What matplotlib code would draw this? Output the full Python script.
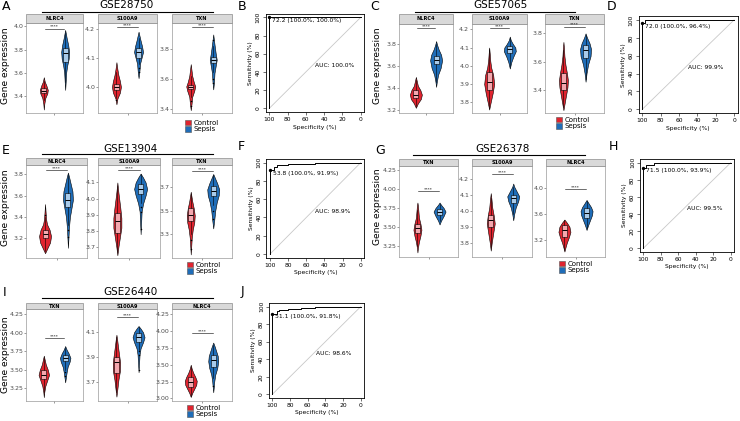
import numpy as np
import matplotlib
matplotlib.use('Agg')
import matplotlib.pyplot as plt
from matplotlib.patches import Rectangle, Patch
from matplotlib.lines import Line2D

W, H = 740, 421
RED, BLUE = '#E0242F', '#1F6DB8'
PINK, LIGHTBLUE = '#F4A7AE', '#A9CBEA'

# ---------------- violin data: (y levels, relative widths) ----------------
# GSE28750
gse28750_genes = ['NLRC4', 'S100A9', 'TXN']
gse28750_ylim = [(3.25, 4.03), (3.91, 4.22), (3.371, 3.977)]
gse28750_ticks = [['3.4', '3.6', '3.8', '4.0'], ['4.0', '4.1', '4.2'], ['3.4', '3.6', '3.8']]
gse28750_ctrl = [
    ([3.28, 3.33, 3.38, 3.42, 3.45, 3.49, 3.52, 3.56], [0, 1, 3, 7, 8, 5, 2, 0]),
    ([3.94, 3.96, 3.98, 4.00, 4.02, 4.04, 4.06, 4.085], [0, 2, 7, 9, 7, 4, 2, 0]),
    ([3.39, 3.43, 3.48, 3.52, 3.55, 3.58, 3.62, 3.66, 3.70], [0, 1.5, 3, 7, 9, 6, 3, 1.5, 0]),
]
gse28750_sepsis = [
    ([3.45, 3.52, 3.60, 3.66, 3.72, 3.78, 3.84, 3.90, 3.97], [0, 1, 2, 4, 7, 8, 6, 3, 0]),
    ([4.03, 4.05, 4.08, 4.10, 4.12, 4.14, 4.16, 4.19], [0, 1.5, 3, 6, 9, 7, 4, 0]),
    ([3.53, 3.58, 3.64, 3.69, 3.73, 3.77, 3.82, 3.86, 3.90], [0, 1.5, 2.5, 5, 7, 5, 3, 1.5, 0]),
]
gse28750_ctrl_box = [(3.36, 3.42, 3.44, 3.47, 3.53), (3.96, 3.99, 4.00, 4.01, 4.05), (3.48, 3.53, 3.545, 3.56, 3.62)]
gse28750_sepsis_box = [(3.52, 3.69, 3.77, 3.81, 3.94), (4.08, 4.10, 4.12, 4.135, 4.17), (3.65, 3.71, 3.73, 3.75, 3.82)]
gse28750_ctrl_out = [[], [3.955], [3.45, 3.42]]
gse28750_sepsis_out = [[], [4.065, 4.05], [3.60, 3.57, 3.86]]
gse28750_sig = [3.98, 4.205, 3.948]

# GSE57065
gse57065_genes = ['NLRC4', 'S100A9', 'TXN']
gse57065_ylim = [(3.173, 3.98), (3.741, 4.229), (3.24, 3.866)]
gse57065_ticks = [['3.2', '3.4', '3.6', '3.8'], ['3.8', '3.9', '4.0', '4.1', '4.2'], ['3.4', '3.6', '3.8']]
gse57065_ctrl = [
    ([3.22, 3.26, 3.30, 3.34, 3.38, 3.42, 3.46, 3.50], [0, 4, 10, 12, 9, 4, 2, 0]),
    ([3.76, 3.80, 3.85, 3.90, 3.95, 3.99, 4.03, 4.07, 4.10], [0, 3, 7, 10, 8, 4, 2, 1, 0]),
    ([3.26, 3.30, 3.36, 3.42, 3.47, 3.52, 3.58, 3.64, 3.70, 3.74], [0, 2, 5, 8, 9, 7, 4, 2, 1, 0]),
]
gse57065_sepsis = [
    ([3.41, 3.46, 3.52, 3.58, 3.65, 3.70, 3.75, 3.79, 3.825], [0, 1.5, 4, 9, 12, 10, 5, 2, 0]),
    ([3.985, 4.02, 4.05, 4.08, 4.10, 4.12, 4.14, 4.16], [0, 3, 7, 12, 11, 6, 2, 0]),
    ([3.46, 3.52, 3.58, 3.64, 3.69, 3.73, 3.77, 3.80], [0, 2, 5, 10, 11, 8, 3, 0]),
]
gse57065_ctrl_box = [(3.24, 3.31, 3.336, 3.38, 3.47), (3.77, 3.866, 3.91, 3.967, 4.09), (3.28, 3.40, 3.45, 3.52, 3.68)]
gse57065_sepsis_box = [(3.45, 3.62, 3.655, 3.69, 3.80), (4.00, 4.07, 4.09, 4.11, 4.15), (3.48, 3.63, 3.68, 3.72, 3.79)]
gse57065_ctrl_out = [[], [], []]
gse57065_sepsis_out = [[], [], []]
gse57065_sig = [3.94, 4.205, 3.846]

# GSE13904
gse13904_genes = ['NLRC4', 'S100A9', 'TXN']
gse13904_ylim = [(3.015, 3.886), (3.633, 4.208), (3.10, 3.886)]
gse13904_ticks = [['3.2', '3.4', '3.6', '3.8'], ['3.7', '3.8', '3.9', '4.0', '4.1'], ['3.3', '3.5', '3.7']]
gse13904_ctrl = [
    ([3.06, 3.10, 3.16, 3.22, 3.28, 3.33, 3.38, 3.45, 3.52], [0, 4, 10, 12, 9, 4, 2, 1, 0]),
    ([3.65, 3.70, 3.76, 3.82, 3.88, 3.94, 3.99, 4.04, 4.10], [0, 2, 5, 8, 8, 6, 4, 2, 0]),
    ([3.13, 3.20, 3.27, 3.34, 3.40, 3.46, 3.52, 3.58, 3.66], [0, 1, 2, 4, 7, 8, 6, 3, 0]),
]
gse13904_sepsis = [
    ([3.11, 3.20, 3.30, 3.40, 3.48, 3.56, 3.64, 3.70, 3.76, 3.815], [0, 1, 2, 4, 7, 10, 9, 6, 3, 0]),
    ([3.78, 3.85, 3.92, 3.97, 4.02, 4.06, 4.10, 4.13, 4.155], [0, 1, 2, 5, 10, 13, 10, 5, 0]),
    ([3.35, 3.42, 3.50, 3.57, 3.63, 3.68, 3.73, 3.77, 3.81], [0, 2, 4, 7, 11, 12, 8, 4, 0]),
]
gse13904_ctrl_box = [(3.08, 3.20, 3.237, 3.28, 3.40), (3.67, 3.79, 3.864, 3.914, 4.08), (3.30, 3.41, 3.467, 3.52, 3.64)]
gse13904_sepsis_box = [(3.32, 3.49, 3.554, 3.62, 3.79), (3.97, 4.03, 4.057, 4.09, 4.15), (3.55, 3.62, 3.67, 3.71, 3.80)]
gse13904_ctrl_out = [[3.42], [], [3.25, 3.18]]
gse13904_sepsis_out = [[3.28, 3.21], [3.95, 3.92, 3.81], [3.50, 3.43]]
gse13904_sig = [3.837, 4.176, 3.836]

# GSE26378
gse26378_genes = ['TXN', 'S100A9', 'NLRC4']
gse26378_ylim = [(3.10, 4.303), (3.71, 4.28), (2.936, 4.33)]
gse26378_ticks = [['3.25', '3.50', '3.75', '4.00', '4.25'], ['3.8', '3.9', '4.0', '4.1', '4.2'], ['3.2', '3.6', '4.0']]
gse26378_ctrl = [
    ([3.16, 3.22, 3.30, 3.38, 3.46, 3.54, 3.62, 3.70, 3.78, 3.82], [0, 1, 3, 6, 8, 6, 3, 2, 1, 0]),
    ([3.75, 3.80, 3.86, 3.92, 3.97, 4.02, 4.07, 4.11], [0, 2, 5, 8, 6, 3, 1.5, 0]),
    ([3.02, 3.08, 3.16, 3.24, 3.32, 3.40, 3.46, 3.51], [0, 2, 5, 9, 12, 10, 5, 0]),
]
gse26378_sepsis = [
    ([3.53, 3.58, 3.64, 3.70, 3.75, 3.79, 3.82], [0, 3, 8, 12, 8, 3, 0]),
    ([3.94, 3.98, 4.02, 4.06, 4.09, 4.12, 4.15, 4.17], [0, 2, 5, 10, 12, 7, 2, 0]),
    ([3.35, 3.42, 3.50, 3.58, 3.64, 3.70, 3.76, 3.81], [0, 3, 7, 11, 12, 9, 4, 0]),
]
gse26378_ctrl_box = [(3.25, 3.42, 3.48, 3.53, 3.72), (3.77, 3.90, 3.94, 3.97, 4.08), (3.05, 3.25, 3.35, 3.43, 3.50)]
gse26378_sepsis_box = [(3.57, 3.66, 3.70, 3.73, 3.80), (3.98, 4.05, 4.08, 4.10, 4.15), (3.38, 3.53, 3.616, 3.68, 3.80)]
gse26378_ctrl_out = [[], [], []]
gse26378_sepsis_out = [[], [], []]
gse26378_sig = [3.97, 4.227, 3.975]

# GSE26440
gse26440_genes = ['TXN', 'S100A9', 'NLRC4']
gse26440_ylim = [(3.078, 4.32), (3.55, 4.286), (2.96, 4.33)]
gse26440_ticks = [['3.25', '3.50', '3.75', '4.00', '4.25'], ['3.7', '3.9', '4.1'],
                  ['3.00', '3.25', '3.50', '3.75', '4.00', '4.25']]
gse26440_ctrl = [
    ([3.13, 3.20, 3.28, 3.36, 3.43, 3.50, 3.57, 3.63, 3.69], [0, 1, 3, 7, 10.5, 8, 4, 2, 0]),
    ([3.585, 3.65, 3.72, 3.79, 3.86, 3.93, 3.99, 4.04, 4.08], [0, 2, 4, 7, 7.3, 5, 3, 1.5, 0]),
    ([3.02, 3.08, 3.14, 3.20, 3.26, 3.32, 3.38, 3.44, 3.50], [0, 3, 7, 11, 12, 9, 5, 2, 0]),
]
gse26440_sepsis = [
    ([3.33, 3.40, 3.47, 3.54, 3.61, 3.66, 3.72, 3.77, 3.82], [0, 1.5, 3, 5, 9, 10.5, 7, 3, 0]),
    ([3.78, 3.85, 3.92, 3.97, 4.02, 4.06, 4.10, 4.13, 4.15], [0, 1, 2, 4, 9, 12, 9, 4, 0]),
    ([3.09, 3.16, 3.25, 3.35, 3.45, 3.55, 3.63, 3.70, 3.77, 3.83], [0, 1, 2, 4, 8, 10, 9, 6, 3, 0]),
]
gse26440_ctrl_box = [(3.20, 3.38, 3.43, 3.49, 3.66), (3.62, 3.77, 3.86, 3.905, 4.06), (3.04, 3.17, 3.25, 3.32, 3.47)]
gse26440_sepsis_box = [(3.50, 3.62, 3.66, 3.70, 3.80), (3.96, 4.025, 4.065, 4.09, 4.14), (3.30, 3.47, 3.57, 3.64, 3.80)]
gse26440_ctrl_out = [[], [], []]
gse26440_sepsis_out = [[3.47, 3.41], [3.95, 3.92, 3.80], [3.18]]
gse26440_sig = [3.925, 4.22, 3.967]

# ---------------- ROC data ----------------
roc_b_spec = [100, 100, 0]
roc_b_sens = [0, 100, 100]
roc_d_spec = [100, 100, 97, 97, 0]
roc_d_sens = [0, 96.4, 96.4, 100, 100]
roc_f_spec = [100, 100, 96, 96, 92, 92, 80, 80, 50, 50, 0]
roc_f_sens = [0, 91.9, 91.9, 95.5, 95.5, 97, 97, 98.5, 98.5, 100, 100]
roc_h_spec = [100, 100, 97, 97, 88, 88, 0]
roc_h_sens = [0, 93.9, 93.9, 97, 97, 100, 100]
roc_j_spec = [100, 100, 95, 95, 92, 92, 82, 82, 68, 68, 52, 52, 0]
roc_j_sens = [0, 91.8, 91.8, 95, 95, 96.5, 96.5, 97.5, 97.5, 98.5, 98.5, 100, 100]
roc_thr = ['72.2 (100.0%, 100.0%)', '72.0 (100.0%, 96.4%)', '53.8 (100.0%, 91.9%)',
           '71.5 (100.0%, 93.9%)', '51.1 (100.0%, 91.8%)']
roc_thr_sens = [100, 96.4, 91.9, 93.9, 91.8]
roc_auc = ['AUC: 100.0%', 'AUC: 99.9%', 'AUC: 98.9%', 'AUC: 99.5%', 'AUC: 98.6%']

fig = plt.figure(figsize=(W / 100, H / 100), dpi=100)


def rect(x0, y0, x1, y1):
    return [x0 / W, 1 - y1 / H, (x1 - x0) / W, (y1 - y0) / H]


def one_violin(ax, pos, prof, box, out, col, light, px):
    ys, ws = prof
    ws = np.array(ws, dtype=float)
    st = [dict(coords=np.array(ys), vals=ws, mean=box[2], median=box[2], min=ys[0], max=ys[-1])]
    parts = ax.violin(st, positions=[pos], widths=[ws.max() * px], showmeans=False,
                      showextrema=False, showmedians=False)
    for b in parts['bodies']:
        b.set_facecolor(col)
        b.set_edgecolor('black')
        b.set_linewidth(0.4)
        b.set_alpha(1)
        b.set_zorder(2)
    bs = [dict(whislo=box[0], q1=box[1], med=box[2], q3=box[3], whishi=box[4], fliers=out)]
    ax.bxp(bs, positions=[pos], widths=[5 * px], patch_artist=True, manage_ticks=False,
           showcaps=False, zorder=3,
           boxprops=dict(facecolor=light, edgecolor='black', linewidth=0.4),
           medianprops=dict(color='black', linewidth=0.7),
           whiskerprops=dict(color='black', linewidth=0.4),
           flierprops=dict(marker='o', markersize=1.1, markerfacecolor='black',
                           markeredgecolor='black', markeredgewidth=0))


def draw_group(xs, strip_top, top, bottom, genes, ylims, ticks, ctrl, sep, cbox, sbox, cout, sout, sig):
    for i, (x0, x1) in enumerate(xs):
        ax = fig.add_axes(rect(x0, top, x1, bottom))
        px = 1.2 / (x1 - x0)
        one_violin(ax, 0.775, ctrl[i], cbox[i], cout[i], RED, PINK, px)
        one_violin(ax, 1.225, sep[i], sbox[i], sout[i], BLUE, LIGHTBLUE, px)
        ax.plot([0.79, 1.21], [sig[i], sig[i]], color='black', lw=0.4)
        ax.text(1.0, sig[i], '****', ha='center', va='bottom', fontsize=3.2)
        ax.set_xlim(0.4, 1.6)
        ax.set_ylim(*ylims[i])
        ax.set_xticks([1.0])
        ax.set_xticklabels([''])
        ax.set_yticks([float(t) for t in ticks[i]])
        ax.set_yticklabels(ticks[i])
        ax.tick_params(labelsize=4.5, colors='#4D4D4D', length=1.3, width=0.4, pad=0.8)
        for s in ax.spines.values():
            s.set_color('#9A9A9A')
            s.set_linewidth(0.5)
        sh = (top - strip_top) / (bottom - top)
        ax.add_patch(Rectangle((0, 1), 1, sh, transform=ax.transAxes, clip_on=False,
                               facecolor='#D9D9D9', edgecolor='#8C8C8C', lw=0.5))
        ax.text(0.5, 1 + sh / 2, genes[i], transform=ax.transAxes, ha='center', va='center',
                fontsize=3.6, fontweight='bold')


def draw_title(cx, cy, text, lx0, lx1, ly):
    fig.text(cx / W, 1 - cy / H, text, ha='center', va='center', fontsize=7.5)
    fig.add_artist(Line2D([lx0 / W, lx1 / W], [1 - ly / H, 1 - ly / H], color='black', lw=0.8))


def draw_legend(x, y):
    hs = [Patch(facecolor=RED, edgecolor='#555555', lw=0.4), Patch(facecolor=BLUE, edgecolor='#555555', lw=0.4)]
    fig.legend(hs, ['Control', 'Sepsis'], loc='upper left', bbox_to_anchor=(x / W, 1 - y / H),
               frameon=False, fontsize=5, handlelength=0.8, handleheight=0.8, handletextpad=0.4,
               labelspacing=0.05, borderpad=0, borderaxespad=0)


def draw_roc(r, spec, sens, thr, thr_sens, auc):
    ax = fig.add_axes(rect(*r))
    ax.plot([100, 0], [0, 100], color='#C8C8C8', lw=0.6)
    ax.plot(spec, sens, color='black', lw=0.7)
    ax.plot([100], [thr_sens], 'o', color='black', ms=1.4)
    ax.text(97, thr_sens - 3.5, thr, fontsize=4.3, ha='left', va='center')
    ax.text(50, 47, auc, fontsize=4.3, ha='left', va='center')
    ax.set_xlim(104, -4)
    ax.set_ylim(-4, 104)
    ax.set_xticks([100, 80, 60, 40, 20, 0])
    ax.set_yticks([0, 20, 40, 60, 80, 100])
    ax.set_yticklabels(['0', '20', '40', '60', '80', '100'], rotation=90, va='center')
    ax.tick_params(labelsize=4.3, length=2, width=0.4, pad=1.5)
    ax.set_xlabel('Specificity (%)', fontsize=4.3, labelpad=2)
    ax.set_ylabel('Sensitivity (%)', fontsize=4.3, labelpad=2)
    for s in ax.spines.values():
        s.set_linewidth(0.6)


# ---------------- violin groups ----------------
draw_group([(26, 83), (98, 157), (172, 232)], 14, 23, 113, gse28750_genes, gse28750_ylim, gse28750_ticks,
           gse28750_ctrl, gse28750_sepsis, gse28750_ctrl_box, gse28750_sepsis_box,
           gse28750_ctrl_out, gse28750_sepsis_out, gse28750_sig)
draw_group([(399, 453), (472, 527), (545, 604)], 14, 24, 113, gse57065_genes, gse57065_ylim, gse57065_ticks,
           gse57065_ctrl, gse57065_sepsis, gse57065_ctrl_box, gse57065_sepsis_box,
           gse57065_ctrl_out, gse57065_sepsis_out, gse57065_sig)
draw_group([(26, 87), (98, 160), (172, 232)], 158, 165, 258, gse13904_genes, gse13904_ylim, gse13904_ticks,
           gse13904_ctrl, gse13904_sepsis, gse13904_ctrl_box, gse13904_sepsis_box,
           gse13904_ctrl_out, gse13904_sepsis_out, gse13904_sig)
draw_group([(399, 458), (472, 532), (546, 605)], 159, 166, 257, gse26378_genes, gse26378_ylim, gse26378_ticks,
           gse26378_ctrl, gse26378_sepsis, gse26378_ctrl_box, gse26378_sepsis_box,
           gse26378_ctrl_out, gse26378_sepsis_out, gse26378_sig)
draw_group([(26, 83), (98, 157), (172, 232)], 303, 309, 401, gse26440_genes, gse26440_ylim, gse26440_ticks,
           gse26440_ctrl, gse26440_sepsis, gse26440_ctrl_box, gse26440_sepsis_box,
           gse26440_ctrl_out, gse26440_sepsis_out, gse26440_sig)

draw_title(127, 5, 'GSE28750', 42, 213, 12)
draw_title(500, 5, 'GSE57065', 415, 575, 12)
draw_title(130, 149, 'GSE13904', 42, 213, 154)
draw_title(503, 149, 'GSE26378', 413, 585, 155)
draw_title(130, 292, 'GSE26440', 42, 213, 298)

for gx, gy in [(6, 66), (378, 66), (6, 208), (377, 207), (6, 355)]:
    fig.text(gx / W, 1 - gy / H, 'Gene expression', rotation=90, ha='center', va='center', fontsize=6.6)

draw_legend(185, 120)
draw_legend(556, 117)
draw_legend(187, 262)
draw_legend(559, 261)
draw_legend(187, 405)

# ---------------- ROC panels ----------------
draw_roc((265.6, 13.7, 364.4, 112), roc_b_spec, roc_b_sens, roc_thr[0], roc_thr_sens[0], roc_auc[0])
draw_roc((638.6, 16.4, 737.7, 112.9), roc_d_spec, roc_d_sens, roc_thr[1], roc_thr_sens[1], roc_auc[1])
draw_roc((266.4, 159, 364.3, 257.7), roc_f_spec, roc_f_sens, roc_thr[2], roc_thr_sens[2], roc_auc[2])
draw_roc((639.8, 159.3, 734.2, 251.7), roc_h_spec, roc_h_sens, roc_thr[3], roc_thr_sens[3], roc_auc[3])
draw_roc((268.8, 303.2, 364.2, 397.8), roc_j_spec, roc_j_sens, roc_thr[4], roc_thr_sens[4], roc_auc[4])

# panel letters
for lab, lx, ly in [('A', 6, 7), ('B', 242, 7), ('C', 375, 6), ('D', 612, 6), ('E', 6, 150),
                    ('F', 241, 147), ('G', 380, 150), ('H', 613, 147), ('I', 5, 293), ('J', 242, 291)]:
    fig.text(lx / W, 1 - ly / H, lab, ha='center', va='center', fontsize=9)

fig.savefig('out.png', dpi=100)
